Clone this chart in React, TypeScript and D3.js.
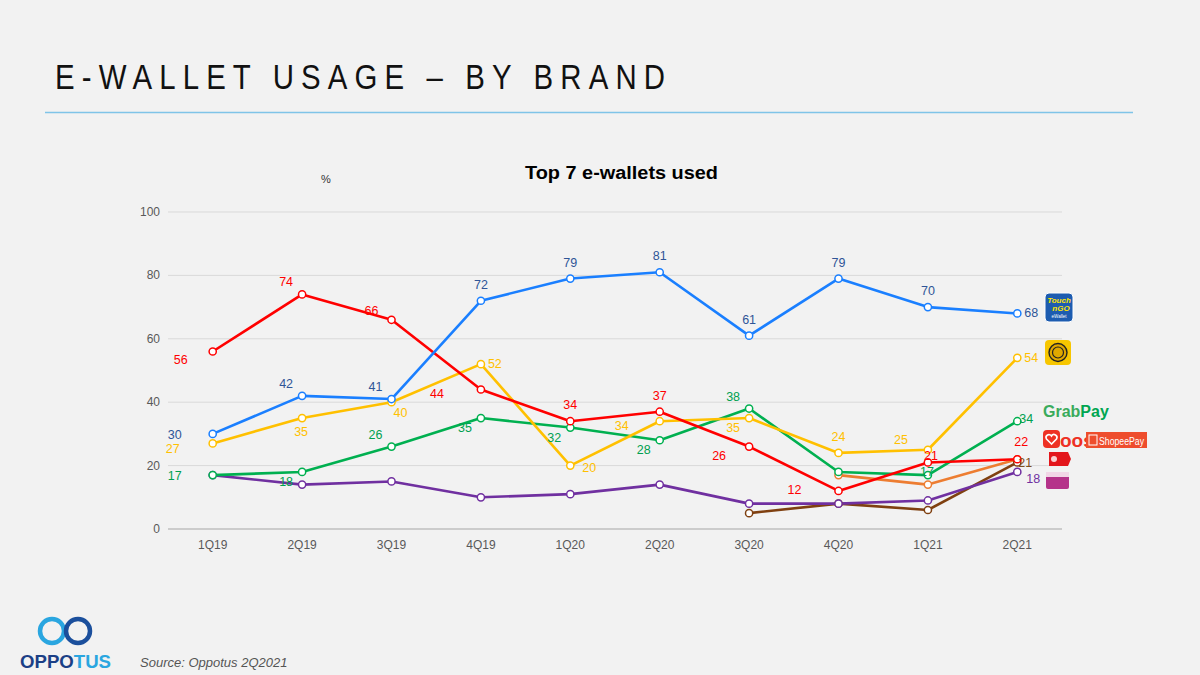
import React from "react";
import * as d3 from "d3";

const categories = ["1Q19", "2Q19", "3Q19", "4Q19", "1Q20", "2Q20", "3Q20", "4Q20", "1Q21", "2Q21"];
const yTicks = [0, 20, 40, 60, 80, 100];

const touchNGo = [30, 42, 41, 72, 79, 81, 61, 79, 70, 68];
const maybank = [27, 35, 40, 52, 20, 34, 35, 24, 25, 54];
const boost = [56, 74, 66, 44, 34, 37, 26, 12, 21, 22];
const grabPay = [17, 18, 26, 35, 32, 28, 38, 18, 17, 34];
const shopeePay = [null, null, null, null, null, null, null, 17, 14, 22];
const bigPay = [null, null, null, null, null, null, 5, 8, 6, 21];
const boostPurple = [17, 14, 15, 10, 11, 14, 8, 8, 9, 18];

type Pos = string | null;
// label placement per point (style only)
const touchPos: Pos[] = ["L", "TL", "TL", "T", "T", "T", "T", "T", "T", "R"];
const maybankPos: Pos[] = ["L2", "B", "BR", "R", "R", "L", "BL", "T", "TL", "R"];
const boostPos: Pos[] = ["L3", "TL", "L", "L", "T", "T", "BL", "L", "T", "T"];
const grabPos: Pos[] = ["L", "BL", "TL", "BL", "BL", "BL", "TL", null, "C", "R"];
const shopeePos: Pos[] = [null, null, null, null, null, null, null, null, null, null];
const bigPos: Pos[] = [null, null, null, null, null, null, null, null, null, "R"];
const purplePos: Pos[] = [null, null, null, null, null, null, null, null, null, "RB"];

const series = [
  { name: "ShopeePay", values: shopeePay, color: "#ed7d31", label: "#ed7d31", pos: shopeePos },
  { name: "Brown", values: bigPay, color: "#7f4010", label: "#7f4f1f", pos: bigPos },
  { name: "Purple", values: boostPurple, color: "#7030a0", label: "#7030a0", pos: purplePos },
  { name: "GrabPay", values: grabPay, color: "#00b050", label: "#00a050", pos: grabPos },
  { name: "Maybank", values: maybank, color: "#ffc000", label: "#ffc000", pos: maybankPos },
  { name: "Boost", values: boost, color: "#ff0000", label: "#ff0000", pos: boostPos },
  { name: "Touch n Go", values: touchNGo, color: "#1a7fff", label: "#2f5597", pos: touchPos },
];

const offsets: Record<string, [number, number, string]> = {
  T: [0, -12, "middle"],
  B: [0, 18, "middle"],
  L: [-38, 5, "middle"],
  L2: [-40, 10, "middle"],
  L3: [-32, 13, "middle"],
  R: [7, 4, "start"],
  RB: [9, 11, "start"],
  TL: [-16, -8, "middle"],
  BL: [-16, 14, "middle"],
  BR: [2, 15, "start"],
  C: [0, 2, "middle"],
};

export default function App() {
  const W = 1200, H = 675;
  const x = d3.scalePoint<string>().domain(categories).range([168, 1062]).padding(0.5);
  const y = d3.scaleLinear().domain([0, 100]).range([529, 212]);
  const line = d3
    .line<number | null>()
    .defined((d) => d != null)
    .x((_, i) => x(categories[i]) as number)
    .y((d) => y(d as number));

  const special: Record<string, [number, number, string]> = {
    "Boost-3": [-44, 8, "middle"],
    "Boost-2": [-20, -5, "middle"],
    "Boost-7": [-44, 3, "middle"],
    "Boost-6": [-30, 13, "middle"],
    "Maybank-5": [-38, 9, "middle"],
    "Maybank-1": [-1, 18, "middle"],
    "Maybank-8": [-27, -6, "middle"],
    "Boost-8": [3, -2, "middle"],
    "Boost-9": [4, -13, "middle"],
    "Brown-9": [1, 5, "start"],
    "GrabPay-9": [2, 2, "start"],
    "GrabPay-8": [-1, 1, "middle"],
    "Maybank-4": [12, 6, "start"],
  };

  const titleScale = 0.84;

  return (
    <svg width={W} height={H} style={{ position: "absolute", left: 0, top: 0, background: "#f2f2f2" }} fontFamily="'Liberation Sans', Arial, sans-serif">
      <rect x={0} y={0} width={W} height={H} fill="#f2f2f2" />
      <text transform={`translate(55,89) scale(${titleScale},1)`} x={0} y={0} fontSize={35} fill="#111" textLength={610 / titleScale} lengthAdjust="spacing">E-WALLET USAGE – BY BRAND</text>
      <line x1={45} x2={1133} y1={112.5} y2={112.5} stroke="#7fc4e8" strokeWidth={1.5} />

      <text x={525} y={179} fontSize={18} fontWeight="bold" fill="#000" textLength={193} lengthAdjust="spacingAndGlyphs">Top 7 e-wallets  used</text>
      <text x={326} y={183} fontSize={11} fill="#333" textAnchor="middle">%</text>

      {yTicks.map((t) => (
        <g key={t}>
          <line x1={168} x2={1062} y1={y(t)} y2={y(t)} stroke={t === 0 ? "#bfbfbf" : "#d9d9d9"} strokeWidth={t === 0 ? 1.5 : 1} />
          <text x={160} y={y(t) + 4} fontSize={12} fill="#595959" textAnchor="end">{t}</text>
        </g>
      ))}
      {categories.map((c) => (
        <text key={c} x={x(c)} y={549} fontSize={12} fill="#595959" textAnchor="middle">{c}</text>
      ))}

      {series.map((s) => (
        <path key={s.name} d={line(s.values) || ""} fill="none" stroke={s.color} strokeWidth={2.6} strokeLinejoin="round" />
      ))}
      {series.map((s) =>
        s.values.map((v, i) =>
          v == null ? null : (
            <circle key={s.name + i} cx={x(categories[i])} cy={y(v)} r={3.6} fill="#fff" stroke={s.color} strokeWidth={1.5} />
          )
        )
      )}
      {series.map((s) =>
        s.values.map((v, i) => {
          const p = s.pos[i];
          if (v == null || !p) return null;
          const o = special[s.name + "-" + i] || offsets[p];
          return (
            <text key={"l" + s.name + i} x={(x(categories[i]) as number) + o[0]} y={y(v) + o[1]} fontSize={12.5} fill={s.label} textAnchor={o[2] as any}>
              {v}
            </text>
          );
        })
      )}

      {/* brand icons */}
      <g>
        <rect x={1045} y={293} width={28} height={29} rx={4} fill="#1d5cb0" stroke="#fff" strokeWidth={1} />
        <text x={1059} y={303} fontSize={8} fontWeight="bold" fontStyle="italic" fill="#ffe600" textAnchor="middle">Touch</text>
        <text x={1061} y={311} fontSize={8} fontWeight="bold" fontStyle="italic" fill="#ffe600" textAnchor="middle">nGO</text>
        <text x={1059} y={318} fontSize={4.5} fill="#fff" textAnchor="middle">eWallet</text>

        <rect x={1045} y={340} width={26} height={25} rx={4} fill="#f7c600" />
        <circle cx={1058} cy={352.5} r={9} fill="#e0a800" stroke="#222" strokeWidth={1.4} />
        <circle cx={1058} cy={352.5} r={5.5} fill="none" stroke="#222" strokeWidth={1.2} />

        <text x={1043} y={417} fontSize={16} fontWeight="bold" fill="#3aab5c">Grab<tspan fill="#00a651">Pay</tspan></text>

        <rect x={1043} y={430} width={17} height={18} rx={4} fill="#ee3124" />
        <path d="M1051.5,444 l-5,-5 a2.6,2.6 0 0 1 5,-3 a2.6,2.6 0 0 1 5,3 z" fill="none" stroke="#fff" strokeWidth={1.6} />
        <text x={1060} y={447} fontSize={19} fontWeight="bold" fill="#ee3124">oost</text>
        <rect x={1086} y={432} width={61} height={16} fill="#ee4d2d" />
        <rect x={1089} y={435} width={8} height={10} fill="none" stroke="#fff" strokeWidth={1} />
        <text x={1099} y={444.5} fontSize={10.5} fill="#fff" textLength={45} lengthAdjust="spacingAndGlyphs">ShopeePay</text>

        <path d="M1049,452 h19 l3,7 l-3,7 h-19 z" fill="#e3161b" />
        <circle cx={1054} cy={459} r={3} fill="#fff" opacity={0.8} />

        <rect x={1046} y={472} width={23} height={17} rx={2} fill="#b5338a" />
        <rect x={1046} y={472} width={23} height={5} fill="#f1d6e6" />
      </g>

      {/* logo */}
      <g>
        <circle cx={52} cy={631} r={12} fill="none" stroke="#2aa6e0" strokeWidth={4.5} />
        <circle cx={78} cy={631} r={12} fill="none" stroke="#1b4f9c" strokeWidth={4.5} />
        <text x={20} y={668} fontSize={19} fontWeight="900" fill="#1b3f86" textLength={91} lengthAdjust="spacingAndGlyphs">OPPO<tspan fill="#2aa6e0">TUS</tspan></text>
      </g>
      <text x={140} y={667} fontSize={13} fontStyle="italic" fill="#555">Source: Oppotus  2Q2021</text>
    </svg>
  );
}
